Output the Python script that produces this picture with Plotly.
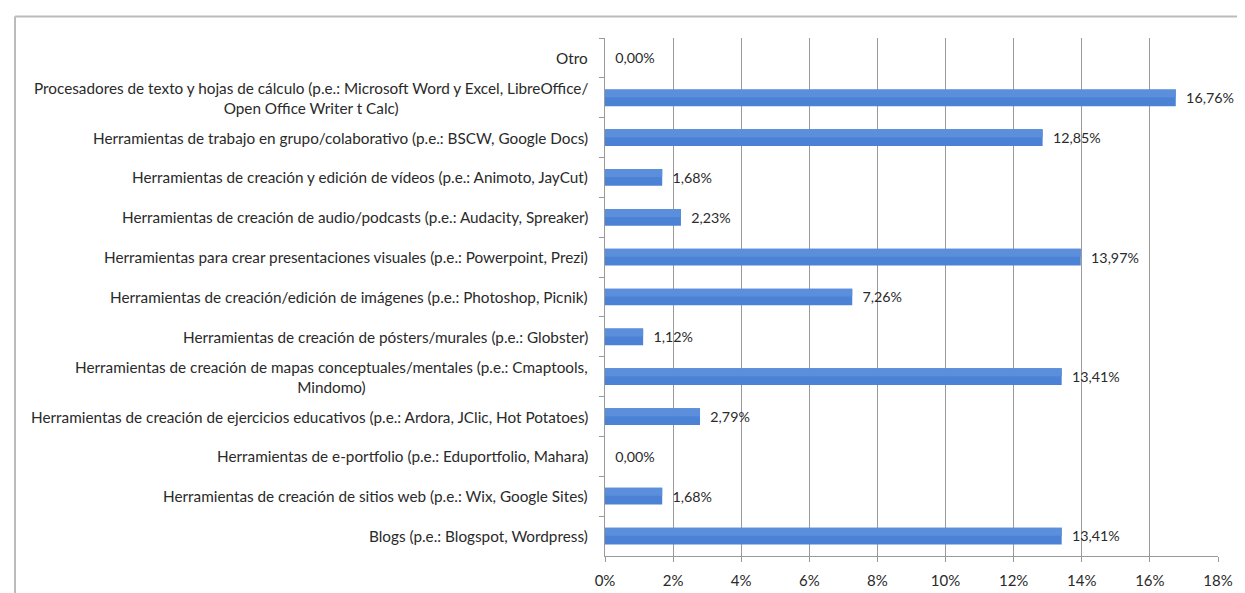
import plotly.graph_objects as go

categories = [
    "Otro",
    "Procesadores de texto y hojas de cálculo (p.e.: Microsoft Word y Excel, LibreOffice/<br>Open Office Writer t Calc)",
    "Herramientas de trabajo en grupo/colaborativo (p.e.: BSCW, Google Docs)",
    "Herramientas de creación y edición de vídeos (p.e.: Animoto, JayCut)",
    "Herramientas de creación de audio/podcasts (p.e.: Audacity, Spreaker)",
    "Herramientas para crear presentaciones visuales (p.e.: Powerpoint, Prezi)",
    "Herramientas de creación/edición de imágenes (p.e.: Photoshop, Picnik)",
    "Herramientas de creación de pósters/murales (p.e.: Globster)",
    "Herramientas de creación de mapas conceptuales/mentales (p.e.: Cmaptools,<br>Mindomo)",
    "Herramientas de creación de ejercicios educativos (p.e.: Ardora, JClic, Hot Potatoes)",
    "Herramientas de e-portfolio (p.e.: Eduportfolio, Mahara)",
    "Herramientas de creación de sitios web (p.e.: Wix, Google Sites)",
    "Blogs (p.e.: Blogspot, Wordpress)",
]
values = [0.00, 16.76, 12.85, 1.68, 2.23, 13.97, 7.26, 1.12, 13.41, 2.79, 0.00, 1.68, 13.41]
x_ticks = [0, 2, 4, 6, 8, 10, 12, 14, 16, 18]
x_tick_labels = [f"{t}%" for t in x_ticks]
value_labels = ["  " + f"{v:.2f}".replace(".", ",") + "%" for v in values]

W, H = 1245, 593
ML, MR, MT, MB = 597, 35, 30, 34
FONT = "Lato"
TXT = "#2A2A2A"

fig = go.Figure()
fig.add_trace(go.Bar(
    x=values, y=categories, orientation="h",
    width=0.42,
    marker=dict(color="#4C82D6", line=dict(width=0)),
    text=value_labels, textposition="outside", cliponaxis=False,
    textfont=dict(family=FONT, size=14.5, color=TXT),
    hoverinfo="skip",
))
# subtle lighter upper half of the bars (gradient look)
fig.add_trace(go.Bar(
    x=values, y=categories, orientation="h",
    width=0.2, offset=-0.21,
    marker=dict(color="#5B8EDB", line=dict(width=0)),
    hoverinfo="skip",
))

annotations = []
for c in categories:
    annotations.append(dict(
        x=0, xref="paper", y=c, yref="y", text=c, showarrow=False,
        xanchor="right", yanchor="middle", align="center", xshift=-15,
        font=dict(family=FONT, size=15.3, color=TXT),
    ))

pw = W - ML - MR
ph = H - MT - MB
shapes = [
    dict(type="line", xref="paper", yref="paper",
         x0=(7 - ML) / pw, x1=(W + 20 - ML) / pw,
         y0=1 + (MT - 8) / ph, y1=1 + (MT - 8) / ph,
         line=dict(color="#BBBBBB", width=2)),
    dict(type="line", xref="paper", yref="paper",
         x0=(7 - ML) / pw, x1=(7 - ML) / pw,
         y0=1 + (MT - 8) / ph, y1=-(MB + 20) / ph,
         line=dict(color="#BBBBBB", width=2)),
]

fig.update_layout(
    width=W, height=H,
    margin=dict(l=ML, r=MR, t=MT, b=MB),
    paper_bgcolor="white", plot_bgcolor="white",
    showlegend=False, barmode="overlay",
    annotations=annotations,
    shapes=shapes,
    font=dict(family=FONT, size=14.5, color=TXT),
    xaxis=dict(
        range=[0, 18], tickvals=x_ticks, ticktext=x_tick_labels,
        showgrid=True, gridcolor="#9A9A9A", gridwidth=1,
        showline=True, linecolor="#9A9A9A", linewidth=1,
        ticks="outside", ticklen=5, tickcolor="#9A9A9A",
        ticklabelstandoff=6,
        zeroline=False, tickfont=dict(family=FONT, size=15, color=TXT),
        fixedrange=True,
    ),
    yaxis=dict(
        type="category", autorange="reversed",
        showticklabels=False, showgrid=False,
        showline=True, linecolor="#9A9A9A", linewidth=1,
        ticks="outside", ticklen=5, tickcolor="#9A9A9A",
        tickson="boundaries", fixedrange=True,
    ),
)

fig.write_html("out.html")
